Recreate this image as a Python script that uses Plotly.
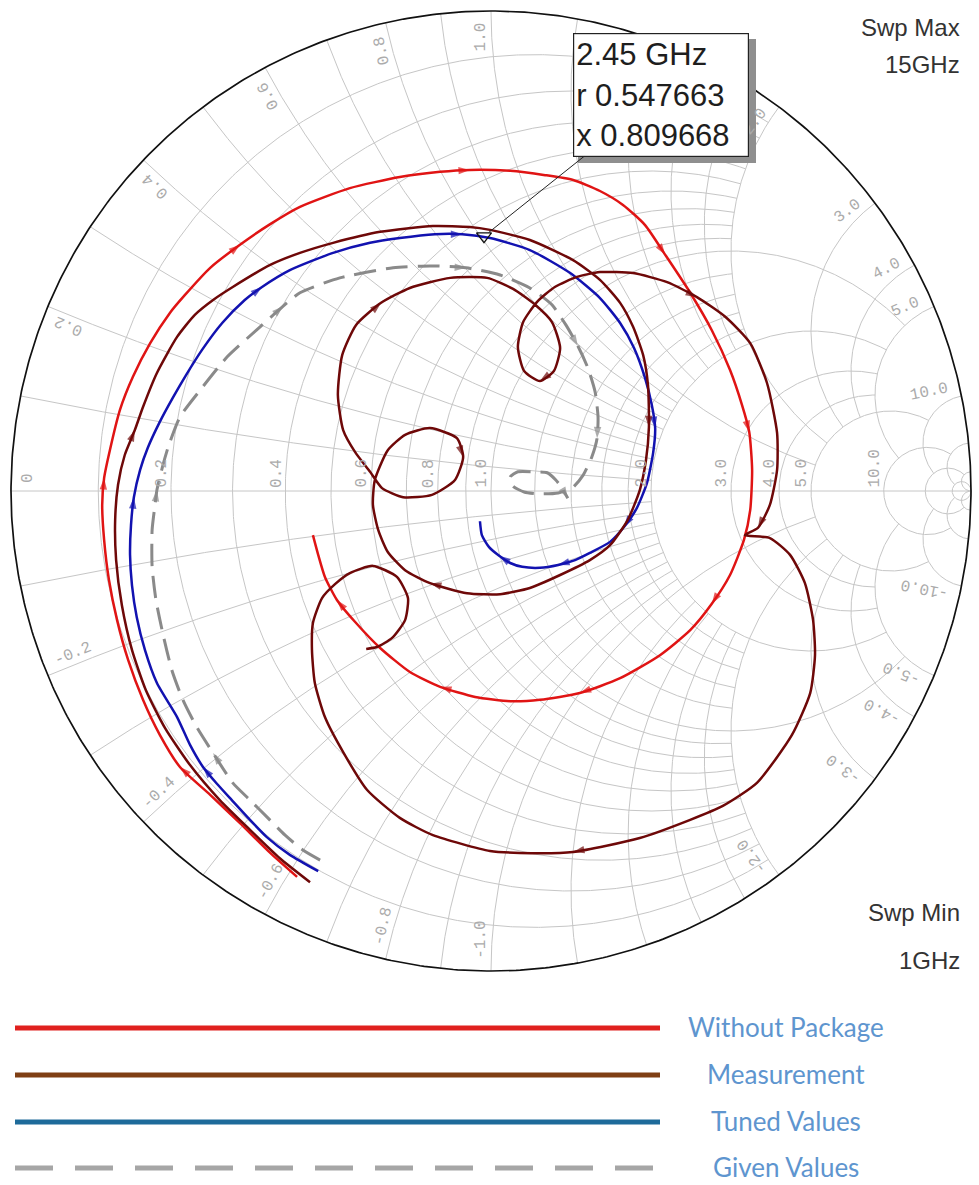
import numpy as np
import plotly.graph_objects as go

# ------------------------------------------------------------------
# Swept S11 traces (1 GHz -> 15 GHz), reflection coefficient Re / Im
# ------------------------------------------------------------------
wop_re = [-0.404, -0.460, -0.523, -0.585, -0.648, -0.690, -0.725, -0.756, -0.779, -0.796,
          -0.806, -0.810, -0.806, -0.794, -0.773, -0.746, -0.710, -0.669, -0.638, -0.585,
          -0.523, -0.460, -0.398, -0.294, -0.190, -0.106, -0.044, 0.040, 0.113, 0.171,
          0.227, 0.275, 0.321, 0.363, 0.415, 0.460, 0.498, 0.523, 0.538, 0.544,
          0.540, 0.527, 0.498, 0.460, 0.415, 0.352, 0.269, 0.185, 0.102, 0.040,
          -0.033, -0.106, -0.169, -0.231, -0.283, -0.321, -0.346, -0.360, -0.371]
wop_im = [-0.804, -0.754, -0.692, -0.633, -0.575, -0.508, -0.435, -0.352, -0.269, -0.185,
          -0.102, -0.029, 0.027, 0.085, 0.169, 0.238, 0.308, 0.371, 0.408, 0.465,
          0.513, 0.556, 0.592, 0.631, 0.654, 0.665, 0.669, 0.667, 0.658, 0.648,
          0.625, 0.596, 0.554, 0.492, 0.413, 0.335, 0.252, 0.179, 0.123, 0.044,
          -0.040, -0.102, -0.175, -0.235, -0.290, -0.342, -0.390, -0.421, -0.435, -0.438,
          -0.429, -0.408, -0.377, -0.327, -0.273, -0.227, -0.179, -0.133, -0.092]
wop_arrows = [4, 12, 20, 26, 33, 38, 43, 47, 51, 55]

meas_re = [-0.377, -0.440, -0.502, -0.565, -0.627, -0.679, -0.719, -0.748, -0.769, -0.781,
           -0.783, -0.777, -0.763, -0.742, -0.725, -0.696, -0.654, -0.617, -0.579, -0.538,
           -0.460, -0.398, -0.329, -0.231, -0.121, -0.044, -0.002, 0.081, 0.171, 0.227,
           0.269, 0.296, 0.317, 0.327, 0.329, 0.323, 0.310, 0.285, 0.248, 0.206,
           0.144, 0.081, 0.019, -0.050, -0.127, -0.179, -0.215, -0.235, -0.246, -0.242,
           -0.215, -0.179, -0.127, -0.071, -0.058, -0.075, -0.123, -0.183, -0.227, -0.252,
           -0.283, -0.308, -0.319, -0.310, -0.281, -0.229, -0.169, -0.085, -0.008, 0.046,
           0.092, 0.127, 0.144, 0.131, 0.102, 0.069, 0.056, 0.067, 0.096, 0.133,
           0.179, 0.227, 0.296, 0.367, 0.429, 0.488, 0.540, 0.575, 0.596, 0.596,
           0.581, 0.556, 0.529, 0.581, 0.623, 0.654, 0.671, 0.675, 0.665, 0.627,
           0.554, 0.483, 0.415, 0.310, 0.171, 0.060, -0.002, -0.121, -0.190, -0.258,
           -0.308, -0.346, -0.367, -0.373, -0.371, -0.352, -0.325, -0.294, -0.246, -0.196,
           -0.173, -0.179, -0.206, -0.238, -0.260]
meas_im = [-0.815, -0.765, -0.706, -0.644, -0.571, -0.494, -0.415, -0.331, -0.238, -0.144,
           -0.060, 0.013, 0.075, 0.127, 0.175, 0.246, 0.321, 0.367, 0.398, 0.425,
           0.471, 0.496, 0.517, 0.540, 0.552, 0.550, 0.544, 0.523, 0.481, 0.440,
           0.392, 0.342, 0.283, 0.221, 0.133, 0.065, 0.002, -0.060, -0.113, -0.144,
           -0.175, -0.202, -0.215, -0.213, -0.192, -0.165, -0.127, -0.081, -0.029, 0.023,
           0.085, 0.117, 0.131, 0.110, 0.071, 0.023, -0.008, -0.013, 0.006, 0.040,
           0.081, 0.127, 0.200, 0.283, 0.346, 0.392, 0.423, 0.444, 0.444, 0.421,
           0.388, 0.352, 0.298, 0.250, 0.229, 0.250, 0.300, 0.352, 0.394, 0.425,
           0.446, 0.456, 0.454, 0.435, 0.404, 0.363, 0.308, 0.225, 0.121, 0.044,
           -0.029, -0.077, -0.092, -0.098, -0.133, -0.192, -0.269, -0.342, -0.421, -0.508,
           -0.608, -0.656, -0.685, -0.723, -0.752, -0.754, -0.750, -0.717, -0.681, -0.623,
           -0.544, -0.471, -0.400, -0.331, -0.275, -0.223, -0.194, -0.171, -0.156, -0.179,
           -0.223, -0.269, -0.306, -0.325, -0.329]
meas_arrows = [13, 34, 44, 54, 65, 74, 84, 91, 104]

tuned_re = [-0.360, -0.419, -0.467, -0.506, -0.540, -0.571, -0.600, -0.627, -0.654, -0.696,
            -0.721, -0.738, -0.748, -0.752, -0.750, -0.744, -0.731, -0.715, -0.690, -0.663,
            -0.635, -0.602, -0.560, -0.513, -0.477, -0.419, -0.329, -0.252, -0.190, -0.117,
            -0.060, -0.002, 0.081, 0.165, 0.227, 0.269, 0.298, 0.321, 0.335, 0.342,
            0.338, 0.325, 0.304, 0.277, 0.248, 0.206, 0.175, 0.140, 0.102, 0.065,
            0.040, 0.017, -0.004, -0.019, -0.023]
tuned_im = [-0.792, -0.758, -0.721, -0.681, -0.644, -0.610, -0.575, -0.529, -0.471, -0.400,
            -0.331, -0.263, -0.196, -0.133, -0.071, -0.013, 0.044, 0.090, 0.144, 0.194,
            0.242, 0.294, 0.350, 0.398, 0.425, 0.460, 0.496, 0.517, 0.527, 0.535,
            0.535, 0.527, 0.502, 0.454, 0.402, 0.350, 0.298, 0.235, 0.179, 0.131,
            0.081, 0.017, -0.035, -0.075, -0.106, -0.129, -0.144, -0.154, -0.160, -0.158,
            -0.150, -0.135, -0.117, -0.092, -0.063]
tuned_arrows = [6, 15, 24, 30, 39, 43, 47, 51]

given_re = [-0.356, -0.392, -0.429, -0.467, -0.502, -0.538, -0.579, -0.613, -0.642, -0.665,
            -0.683, -0.698, -0.706, -0.706, -0.700, -0.696, -0.685, -0.673, -0.648, -0.606,
            -0.550, -0.481, -0.433, -0.398, -0.315, -0.204, -0.127, -0.052, 0.019, 0.081,
            0.127, 0.156, 0.181, 0.202, 0.217, 0.223, 0.221, 0.210, 0.192, 0.169,
            0.140, 0.102, 0.069, 0.046, 0.040, 0.056, 0.088, 0.117, 0.135, 0.148, 0.160]
given_im = [-0.769, -0.748, -0.717, -0.679, -0.644, -0.608, -0.546, -0.492, -0.435, -0.373,
            -0.300, -0.227, -0.158, -0.081, -0.029, 0.002, 0.048, 0.090, 0.154, 0.210,
            0.279, 0.342, 0.385, 0.413, 0.444, 0.465, 0.469, 0.465, 0.450, 0.423,
            0.388, 0.346, 0.302, 0.256, 0.206, 0.154, 0.110, 0.071, 0.033, 0.006,
            -0.004, -0.006, -0.002, 0.010, 0.029, 0.040, 0.040, 0.038, 0.023, 0.006, -0.015]
given_arrows = [6, 15, 22, 27, 32, 36, 50]

# Marker readout (normalised impedance)
marker_freq = "2.45 GHz"
marker_r = 0.547663
marker_x = 0.809668

sweep_max = "15GHz"
sweep_min = "1GHz"

# ------------------------------------------------------------------
# Smith chart grid: constant-r circles / constant-x arcs and how far
# each one is carried across the chart
# ------------------------------------------------------------------
res_values = [0.1, 0.2, 0.3, 0.4, 0.5, 0.6, 0.7, 0.8, 0.9, 1.0,
              1.2, 1.4, 1.6, 1.8, 2.0, 3.0, 4.0, 5.0, 10.0, 20.0, 50.0]
res_reach = [2, 2, 2, 2, 2, 2, 2, 2, 2, 5,
             2, 2, 2, 2, 5, 5, 5, 10, 20, 50, np.inf]
react_values = [0.1, 0.2, 0.3, 0.4, 0.5, 0.6, 0.7, 0.8, 0.9, 1.0,
                1.2, 1.4, 1.6, 1.8, 2.0, 3.0, 4.0, 5.0, 10.0, 20.0, 50.0]
react_reach = [2, 2, 2, 2, 2, 2, 2, 2, 2, 5,
               2, 2, 2, 2, 5, 5, 5, 10, 20, 50, np.inf]
res_labels = [0.2, 0.4, 0.6, 0.8, 1.0, 2.0, 3.0, 4.0, 5.0, 10.0]
react_labels = [0.2, 0.4, 0.6, 0.8, 1.0, 2.0, 3.0, 4.0, 5.0, 10.0]

legend_names = ["Without Package", "Measurement", "Tuned Values", "Given Values"]
legend_colors = ["#e0201e", "#7f3f14", "#1e6b9a", "#a6a6a6"]

# ------------------------------------------------------------------
W, H = 979, 1185
CX, CY, RAD = 491, 491, 480          # unit circle centre / radius in px
PX = 1.0 / RAD                         # one pixel in chart units

GRID_COLOR = "#c6c6c6"
LABEL_COLOR = "#ababab"
RED, MAROON, BLUE, GRAY = "#e01414", "#6e0808", "#1212b0", "#8a8a8a"


def to_gamma(z):
    return (z - 1) / (z + 1)


gx, gy = [], []


def add_path(g):
    gx.extend(np.real(g).tolist())
    gx.append(None)
    gy.extend(np.imag(g).tolist())
    gy.append(None)


for r, lim in zip(res_values, res_reach):
    if np.isinf(lim):
        t = np.linspace(0, 2 * np.pi, 361)
        add_path(r / (1 + r) + np.exp(1j * t) / (1 + r))
    else:
        xs = np.linspace(-lim, lim, 801)
        add_path(to_gamma(r + 1j * xs))

for xv, lim in zip(react_values, react_reach):
    top = 1e4 if np.isinf(lim) else lim
    rs = np.concatenate([[0.0], np.geomspace(1e-3, top, 500)])
    for s in (1, -1):
        add_path(to_gamma(rs + 1j * s * xv))

add_path(np.array([-1 + 0j, 1 + 0j]))

fig = go.Figure()
fig.add_trace(go.Scatter(x=gx, y=gy, mode="lines", hoverinfo="skip",
                         line=dict(color=GRID_COLOR, width=1)))

t = np.linspace(0, 2 * np.pi, 721)
fig.add_trace(go.Scatter(x=np.cos(t), y=np.sin(t), mode="lines", hoverinfo="skip",
                         line=dict(color="#111111", width=1.7)))


def sweep_trace(re, im, arrows, color, width, dash=None, asize=12):
    sizes = [asize if i in arrows else 0 for i in range(len(re))]
    return go.Scatter(
        x=re, y=im, mode="lines+markers",
        line=dict(color=color, width=width, dash=dash, shape="spline", smoothing=0.6),
        marker=dict(symbol="arrow", size=sizes, angleref="previous", color=color,
                    line=dict(width=0)),
        hoverinfo="skip")


fig.add_trace(sweep_trace(given_re, given_im, given_arrows, GRAY, 3, dash="22px,10px"))
fig.add_trace(sweep_trace(tuned_re, tuned_im, tuned_arrows, BLUE, 2.5))
fig.add_trace(sweep_trace(wop_re, wop_im, wop_arrows, RED, 2.5))
fig.add_trace(sweep_trace(meas_re, meas_im, meas_arrows, MAROON, 2.5))

gm = to_gamma(marker_r + 1j * marker_x)
fig.add_trace(go.Scatter(x=[gm.real], y=[gm.imag], mode="markers", hoverinfo="skip",
                         marker=dict(symbol="triangle-down-open", size=13,
                                     color="#111111", line=dict(width=1.3))))

annotations = []
lbl_font = dict(family="Liberation Mono, monospace", size=16, color=LABEL_COLOR)
CHAR = 9.6

# resistance labels along the real axis
for v in res_labels:
    txt = f"{v:.1f}"
    L = len(txt) * CHAR
    annotations.append(dict(x=to_gamma(v) - 9 * PX, y=(3 + L / 2) * PX, text=txt,
                            showarrow=False, textangle=-90, font=lbl_font,
                            xanchor="center", yanchor="middle"))
annotations.append(dict(x=-1 + 17 * PX, y=13 * PX, text="0", showarrow=False,
                        textangle=-90, font=lbl_font, xanchor="center", yanchor="middle"))

# reactance labels around the rim
for mag in react_labels:
    for v in (mag, -mag):
        txt = f"{v:.1f}"
        L = len(txt) * CHAR
        ge = ((v * v - 1) + 2j * v) / (v * v + 1)
        th = np.degrees(np.angle(ge))
        pos = ge * (1 - (12 + L / 2) * PX)
        tang = 1j * ge if v > 0 else -1j * ge
        pos = pos + tang * 10 * PX
        reading = th if v > 0 else th + 180
        annotations.append(dict(x=pos.real, y=pos.imag, text=txt, showarrow=False,
                                textangle=-reading, font=lbl_font,
                                xanchor="center", yanchor="middle"))

# sweep range notes
swp_font = dict(family="Liberation Sans, Arial", size=24, color="#333333")
for txt, py in (("Swp Max", 28), (sweep_max, 64), ("Swp Min", 912), (sweep_min, 960)):
    annotations.append(dict(x=962 / W, y=1 - py / H, xref="paper", yref="paper",
                            text=txt, showarrow=False, xanchor="right",
                            yanchor="middle", font=swp_font))

# marker readout box with leader line
box_l, box_r, box_t, box_b = 572, 750, 33, 157
box_cx = ((box_l + box_r) / 2 - CX) * PX
box_cy = (CY - (box_t + box_b) / 2) * PX
annotations.append(dict(
    x=gm.real, y=gm.imag, xref="x", yref="y", ax=box_cx, ay=box_cy, axref="x", ayref="y",
    text=f"{marker_freq}<br>r {marker_r:.6f}<br>x {marker_x:.6f}",
    showarrow=True, arrowhead=0, arrowwidth=1, arrowcolor="#222222", standoff=6,
    align="left", width=170, height=118, borderpad=2, bgcolor="white",
    bordercolor="#222222", borderwidth=1.2,
    font=dict(family="Liberation Sans, Arial", size=31, color="#1e1e1e")))

shapes = [dict(type="rect", xref="x", yref="y",
               x0=(box_l + 6 - CX) * PX, x1=(box_r + 6 - CX) * PX,
               y0=(CY - (box_b + 6)) * PX, y1=(CY - (box_t + 6)) * PX,
               fillcolor="#8f8f8f", line=dict(width=0), layer="above")]

# legend block under the chart
leg_rows = [1028, 1075, 1122, 1168]
for name, col, py in zip(legend_names, legend_colors, leg_rows):
    shapes.append(dict(type="line", xref="paper", yref="paper",
                       x0=15 / W, x1=660 / W, y0=1 - py / H, y1=1 - py / H,
                       line=dict(color=col, width=5,
                                 dash="38px,22px" if name == "Given Values" else "solid")))
    annotations.append(dict(x=786 / W, y=1 - (py - 1) / H, xref="paper", yref="paper",
                            text=name, showarrow=False, xanchor="center", yanchor="middle",
                            font=dict(family="Lato, Open Sans, sans-serif", size=26,
                                      color="#5e95cf")))

fig.update_layout(
    width=W, height=H, margin=dict(l=0, r=0, t=0, b=0),
    paper_bgcolor="white", plot_bgcolor="white", showlegend=False,
    xaxis=dict(range=[-CX * PX, (W - CX) * PX], visible=False, fixedrange=True),
    yaxis=dict(range=[(CY - H) * PX, CY * PX], visible=False, fixedrange=True),
    annotations=annotations, shapes=shapes,
)

fig.write_html("out.html", config={"displayModeBar": False})
